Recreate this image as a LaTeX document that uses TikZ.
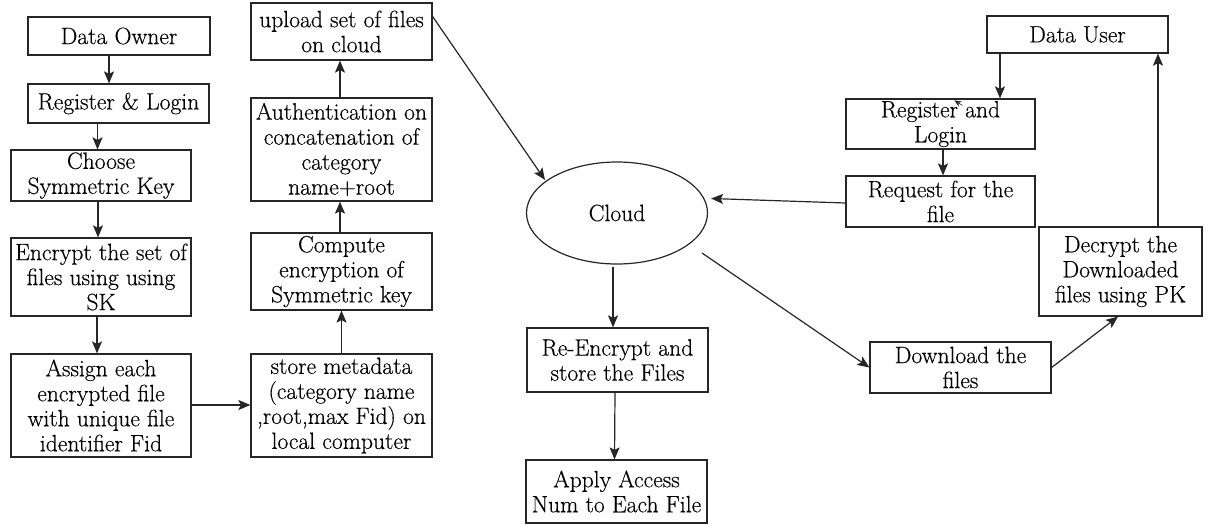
\documentclass[tikz,border=0pt]{standalone}
\usepackage{fontspec}
\setmainfont{Latin Modern Roman}[FakeBold=0.35]
\usetikzlibrary{arrows.meta,shapes.geometric,calc}

\begin{document}
\begin{tikzpicture}[x=1pt,y=-1pt,
  every node/.style={font=\rmfamily\fontsize{23.6}{25}\selectfont, align=center, inner sep=0pt},
  stepbox/.style={draw=black!85, line width=1.2pt, rectangle},
  arr/.style={draw=black!85, line width=1.2pt, -{Stealth[length=12pt,width=10pt,inset=2.5pt]}},
  thickarr/.style={arr, line width=2pt}
]
\useasboundingbox (0,0) rectangle (1215,525);

% data owner side
\node[stepbox, minimum width=182pt, minimum height=38pt] (own) at (119,36) {Data Owner};
\node[stepbox, minimum width=181pt, minimum height=39pt] (reg) at (118.5,103.5) {Register \& Login};
\node[stepbox, minimum width=180pt, minimum height=51pt] (choose) at (101,175.5) {Choose\\Symmetric Key};
\node[stepbox, minimum width=180pt, minimum height=78pt] (enc) at (101,277) {Encrypt the set of\\files using using\\SK};
\node[stepbox, minimum width=180pt, minimum height=103pt] (assign) at (101,405.5) {Assign each\\encrypted file\\with unique file\\identifier Fid};

\node[stepbox, minimum width=181pt, minimum height=103pt] (store) at (341.5,405.5) {store metadata\\(category name\\,root,max Fid) on\\local computer};
\node[stepbox, minimum width=181pt, minimum height=77pt] (comp) at (341.5,271.5) {Compute\\encryption of\\Symmetric key};
\node[stepbox, minimum width=181pt, minimum height=103pt] (auth) at (341.5,149.5) {Authentication on\\concatenation of\\category\\name+root};
\node[stepbox, minimum width=181pt, minimum height=57pt] (upload) at (341.5,31.5) {upload set of files\\on cloud};

% cloud side
\node[draw=black!85, line width=1.2pt, ellipse, minimum width=181pt, minimum height=102pt] (cloud) at (617,213) {Cloud};
\node[stepbox, minimum width=181pt, minimum height=64pt] (reenc) at (617.5,360) {Re-Encrypt and\\store the Files};
\node[stepbox, minimum width=181pt, minimum height=63pt] (apply) at (616.5,491.5) {Apply Access\\Num to Each File};

% data user side
\node[stepbox, minimum width=181pt, minimum height=37pt] (duser) at (1077.5,34.5) {Data User};
\node[stepbox, minimum width=189pt, minimum height=50pt] (ureg) at (940.5,124) {Register and\\Login};
\node[stepbox, minimum width=189pt, minimum height=51pt] (req) at (940.5,201.5) {Request for the\\file};
\node[stepbox, minimum width=163pt, minimum height=89pt] (dec) at (1120.5,271.5) {Decrypt the\\Downloaded\\files using PK};
\node[stepbox, minimum width=181pt, minimum height=51pt] (down) at (960.5,367.5) {Download the\\files};

% owner flow
\draw[arr] ([xshift=-10pt]own.south) -- ([xshift=-10pt]own.south |- reg.north);
\draw[arr] ([xshift=-21pt]reg.south) -- ([xshift=-21pt]reg.south |- choose.north);
\draw[arr] ([xshift=-3pt]choose.south) -- ([xshift=-3pt]choose.south |- enc.north);
\draw[arr] ([xshift=-4pt]enc.south) -- ([xshift=-4pt]enc.south |- assign.north);
\draw[arr] ([yshift=0.5pt]assign.east) -- ([yshift=0.5pt]assign.east -| store.west);
\draw[arr] (store.north) -- (comp.south);
\draw[thickarr] ([xshift=-1.5pt]comp.north) -- ([xshift=-1.5pt]auth.south);
\draw[arr] ([xshift=-1.5pt]auth.north) -- ([xshift=-1.5pt]upload.south);
\draw[arr] ([yshift=15pt]upload.east) -- ($(cloud.center)+(-72,-33)$);

% cloud flow
\draw[arr] ([yshift=-1.5pt]req.west) -- ($(cloud.east)+(3,-14.5)$);
\draw[arr] ($(cloud.south)+(-4,2)$) -- ([xshift=-4.5pt]reenc.north);
\draw[arr] ([xshift=-2.5pt]reenc.south) -- ([xshift=-2pt]apply.north);
\draw[arr] ($(cloud.center)+(85,40)$) -- (down.west);

% user flow
\draw[arr] (down.east) -- ([xshift=-2.5pt]dec.south);
\draw[arr] ([xshift=37.5pt]dec.north) -- ([xshift=37.5pt]dec.north |- duser.south);
\draw[arr] ([xshift=-77.5pt]duser.south) -- ([xshift=-77.5pt]duser.south |- ureg.north);
\draw[arr] ([xshift=2.5pt]ureg.south) -- ([xshift=2.5pt]req.north);
\coordinate (stray) at ($(ureg.north west)+(117,7)$);
\draw[arr, line width=0.6pt, -{Stealth[length=7pt,width=6pt]}] (stray) -- ++(-8,-5);

\end{tikzpicture}
\end{document}
